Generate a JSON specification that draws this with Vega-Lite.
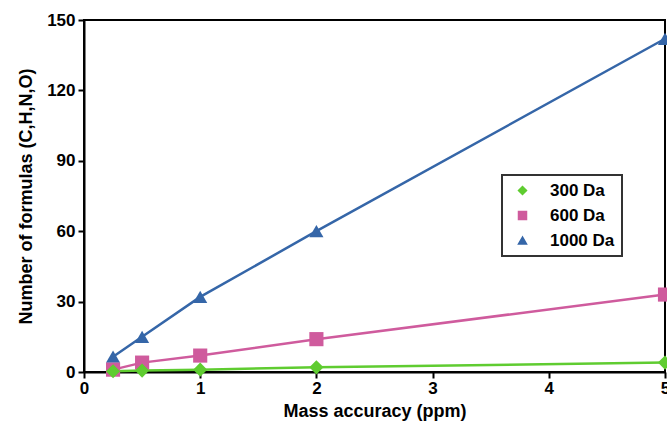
{
  "$schema": "https://vega.github.io/schema/vega-lite/v6.json",
  "autosize": "none",
  "width": 581,
  "height": 352,
  "padding": {"left": 84, "top": 20, "right": 2, "bottom": 53},
  "background": "white",
  "config": {
    "font": "Liberation Sans",
    "view": {"stroke": "black", "strokeWidth": 2}
  },
  "data": {
    "values": [
      {"mass": "1000 Da", "ppm": 0.25, "n": 6.5},
      {"mass": "1000 Da", "ppm": 0.5, "n": 15},
      {"mass": "1000 Da", "ppm": 1, "n": 32},
      {"mass": "1000 Da", "ppm": 2, "n": 60},
      {"mass": "1000 Da", "ppm": 5, "n": 142},
      {"mass": "600 Da", "ppm": 0.25, "n": 1},
      {"mass": "600 Da", "ppm": 0.5, "n": 4},
      {"mass": "600 Da", "ppm": 1, "n": 7},
      {"mass": "600 Da", "ppm": 2, "n": 14},
      {"mass": "600 Da", "ppm": 5, "n": 33},
      {"mass": "300 Da", "ppm": 0.25, "n": 0.3},
      {"mass": "300 Da", "ppm": 0.5, "n": 0.6},
      {"mass": "300 Da", "ppm": 1, "n": 1},
      {"mass": "300 Da", "ppm": 2, "n": 2},
      {"mass": "300 Da", "ppm": 5, "n": 4}
    ]
  },
  "transform": [{"calculate": "datum.mass", "as": "series"}],
  "mark": {"type": "line", "strokeWidth": 2.5, "point": {"filled": true, "size": 200, "opacity": 1}},
  "encoding": {
    "x": {
      "field": "ppm", "type": "quantitative",
      "scale": {"domain": [0, 5], "nice": false},
      "axis": {
        "title": "Mass accuracy (ppm)", "values": [0, 1, 2, 3, 4, 5],
        "grid": false, "domainColor": "black", "domainWidth": 2,
        "tickColor": "black", "tickWidth": 2, "tickSize": 6,
        "labelFont": "Liberation Sans", "labelFontWeight": "bold", "labelFontSize": 17, "labelColor": "black",
        "labelPadding": 2, "labelFlush": false,
        "titleFont": "Liberation Sans", "titleFontWeight": "bold", "titleFontSize": 18, "titleColor": "black", "titlePadding": 6
      }
    },
    "y": {
      "field": "n", "type": "quantitative",
      "scale": {"domain": [0, 150], "nice": false},
      "axis": {
        "title": "Number of formulas (C,H,N,O)", "values": [0, 30, 60, 90, 120, 150],
        "grid": false, "domainColor": "black", "domainWidth": 2,
        "tickColor": "black", "tickWidth": 2, "tickSize": 6,
        "labelFont": "Liberation Sans", "labelFontWeight": "bold", "labelFontSize": 17, "labelColor": "black",
        "labelPadding": 3, "labelFlush": false,
        "titleFont": "Liberation Sans", "titleFontWeight": "bold", "titleFontSize": 18, "titleColor": "black", "titlePadding": 11
      }
    },
    "color": {
      "field": "mass", "type": "nominal",
      "scale": {"domain": ["300 Da", "600 Da", "1000 Da"], "range": ["#5fcc30", "#cf5b9d", "#3566a8"]},
      "legend": {
        "title": null, "orient": "none", "legendX": 418, "legendY": 155,
        "strokeColor": "#333", "padding": 7, "fillColor": "white",
        "labelFont": "Liberation Sans", "labelFontWeight": "bold", "labelFontSize": 17, "labelColor": "black",
        "symbolSize": 64, "symbolOffset": 5, "labelOffset": 19, "rowPadding": 7,
        "encode": {
          "legend": {"update": {"strokeWidth": {"value": 2}}},
          "symbols": {"update": {
            "shape": {"value": {"expr": "datum.value == '300 Da' ? 'M-3.75,-0.3H3.75V0.3H-3.75ZM0,-1.1L1.1,0L0,1.1L-1.1,0Z' : datum.value == '600 Da' ? 'M-3.75,-0.3H3.75V0.3H-3.75ZM-1.2,-1.2H1.2V1.2H-1.2Z' : 'M-3.75,-0.3H3.75V0.3H-3.75ZM0,-1.3L1.3,1L-1.3,1Z'"}},
            "fill": {"value": {"expr": "datum.value == '300 Da' ? '#5fcc30' : datum.value == '600 Da' ? '#cf5b9d' : '#3566a8'"}},
            "opacity": {"value": 1},
            "fillOpacity": {"value": 1}
          }}
        }
      }
    },
    "shape": {
      "field": "series", "type": "nominal",
      "scale": {"domain": ["300 Da", "600 Da", "1000 Da"], "range": ["diamond", "square", "triangle-up"]},
      "legend": null
    },
    "order": {"field": "ppm", "type": "quantitative"}
  }
}
